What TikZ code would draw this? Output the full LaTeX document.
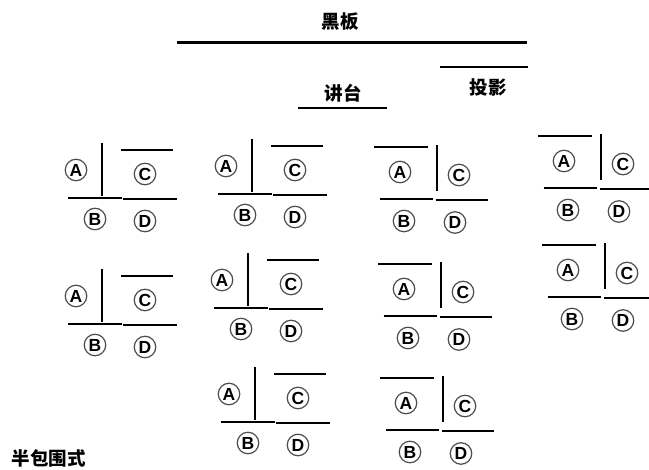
\documentclass[tikz,border=0pt]{standalone}
\usepackage{fontspec}
\setsansfont{Liberation Sans}
\newfontfamily\cjk{Noto Sans CJK SC}
\begin{document}
\begin{tikzpicture}[x=1pt, y=-1pt]
    % Styles
    \tikzstyle{seat} = [circle, draw=black!70, line width=1.2pt, minimum size=21.5pt, inner sep=0pt, font=\sffamily\bfseries\fontsize{17.5}{17.5}\selectfont]
    \tikzstyle{desk} = [line width=2pt]
    \tikzstyle{title} = [font=\cjk\bfseries\fontsize{18.5}{18.5}\selectfont]

    \clip (0,0) rectangle (649,470);

    % Front of the room
    \node (board) [title] at (340,22) {黑板};
    \node (screen) [title] at (488,87) {投影};
    \node (podium) [title] at (343,93) {讲台};
    \draw [line width=3pt] (177,43) -- (527,43);
    \draw [desk] (440,67) -- (528,67);
    \draw [desk] (298,108) -- (387,108);

    % Groups, screen between A and C
    \foreach \g/\x/\y in {1/102/198, 2/102/324, 3/252/194, 4/248/308, 5/255/422} {
        \begin{scope}[shift={(\x,\y)}]
            \draw [desk] (0,-55) -- (0,-2);
            \draw [desk] (19,-48) -- (71,-48);
            \draw [desk] (-34,0) -- (20,0);
            \draw [desk] (21,1.5) -- (75,1.5);
            \node (A\g) [seat] at (-26,-28) {A};
            \node (C\g) [seat] at (43,-24) {C};
            \node (B\g) [seat] at (-7,21) {B};
            \node (D\g) [seat] at (43,23) {D};
        \end{scope}
    }

    % Groups, screen over A
    \foreach \g/\x/\y in {6/437/199, 7/441/316, 8/443/430, 9/601/188, 10/605/297} {
        \begin{scope}[shift={(\x,\y)}]
            \draw [desk] (-63,-52) -- (-9.5,-52);
            \draw [desk] (0,-54) -- (0,-8);
            \draw [desk] (-57.5,0) -- (-4,0);
            \draw [desk] (-1.5,1.5) -- (51,1.5);
            \node (A\g) [seat] at (-37,-27) {A};
            \node (C\g) [seat] at (22,-24) {C};
            \node (B\g) [seat] at (-33,22) {B};
            \node (D\g) [seat] at (18,23.5) {D};
        \end{scope}
    }

    \node (kind) [title] at (49,458) {半包围式};
\end{tikzpicture}
\end{document}
